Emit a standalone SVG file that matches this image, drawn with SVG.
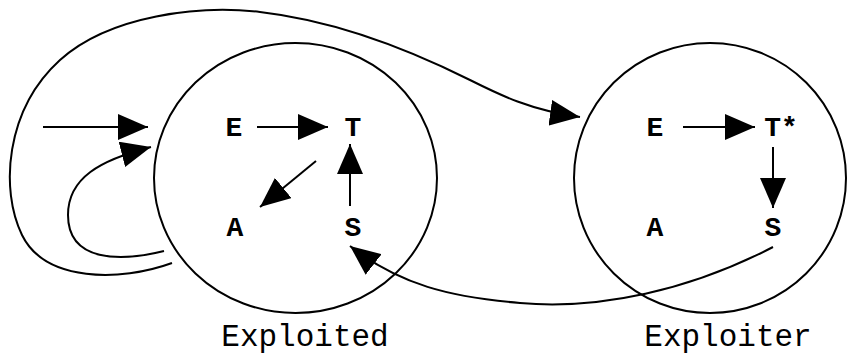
<svg xmlns="http://www.w3.org/2000/svg" width="847" height="358" viewBox="0 0 847 358">
<defs>
<marker id="ah" viewBox="0 0 30 26" refX="30" refY="13" markerWidth="30" markerHeight="26" markerUnits="userSpaceOnUse" orient="auto">
<path d="M0,0 L30,13 L0,26 z" fill="#000"/>
</marker>
<style>
.c{fill:none;stroke:#000;stroke-width:2}
.e{fill:none;stroke:#000;stroke-width:2;marker-end:url(#ah)}
.n{font-family:"Liberation Mono","Courier New",monospace;font-size:28px;font-weight:bold;text-anchor:middle;fill:#000}
.l{font-family:"Liberation Mono","Courier New",monospace;font-size:31px;text-anchor:middle;fill:#000}
</style>
</defs>
<rect width="847" height="358" fill="#fff"/>
<g id="exploited">
<ellipse class="c" cx="295.5" cy="178" rx="141.5" ry="135"/>
<text class="l" x="305" y="346">Exploited</text>
</g>
<g id="exploiter">
<ellipse class="c" cx="710" cy="178" rx="136" ry="135"/>
<text class="l" x="728" y="346">Exploiter</text>
</g>
<g id="ex-E"><text class="n" x="234" y="136">E</text></g>
<g id="ex-T"><text class="n" x="353" y="136">T</text></g>
<g id="ex-A"><text class="n" x="235" y="236">A</text></g>
<g id="ex-S"><text class="n" x="353" y="236">S</text></g>
<g id="er-E"><text class="n" x="655" y="136">E</text></g>
<g id="er-T"><text class="n" x="781" y="136">T*</text></g>
<g id="er-A"><text class="n" x="655" y="236">A</text></g>
<g id="er-S"><text class="n" x="773" y="236">S</text></g>
<g id="connectors">
<path class="e" d="M43,127 L148,127"/>
<path class="e" d="M164,251 C120,262 68,262 68,215 C68,178 100,160 151,147"/>
<path class="e" d="M172,263 C120,282 45,282 22,235 C0,190 5,110 60,60 C110,15 200,5 260,12 C330,20 400,45 470,80 C500,95 530,110 580,117"/>
<path class="e" d="M773,247 C690,290 600,310 520,303 C450,297 400,285 350,246"/>
<path class="e" d="M257,127 L328,127"/>
<path class="e" d="M316,161 L260,207"/>
<path class="e" d="M350,206 L350,144"/>
<path class="e" d="M683,127 L755,127"/>
<path class="e" d="M773,147 L773,208"/>
</g>
</svg>
